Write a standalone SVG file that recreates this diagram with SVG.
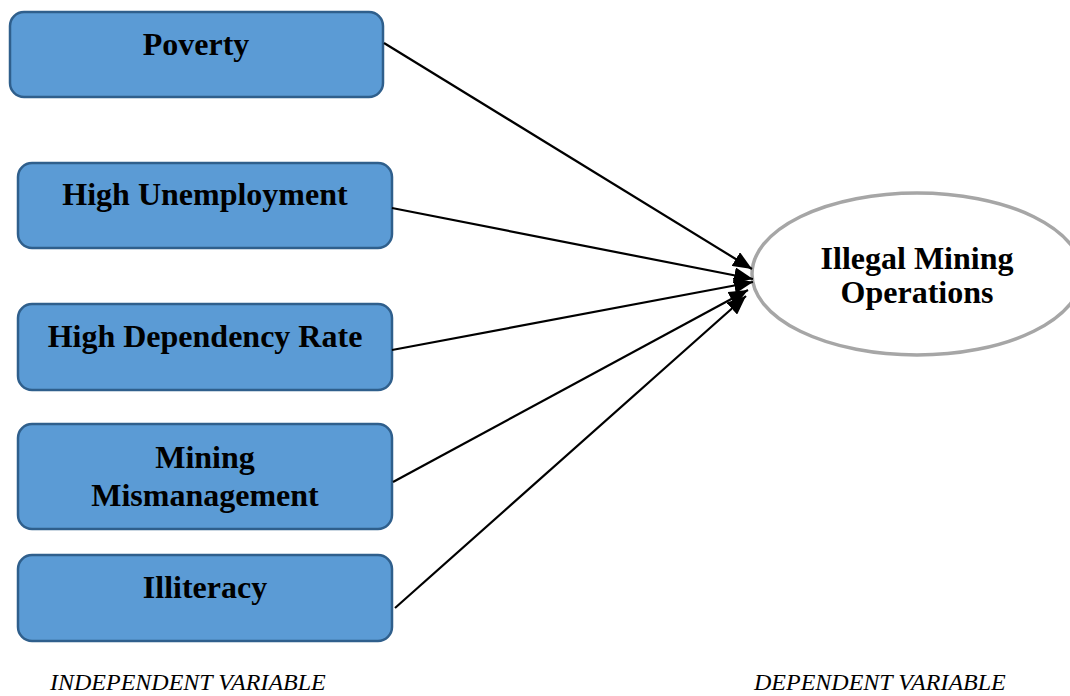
<svg xmlns="http://www.w3.org/2000/svg" width="1070" height="696" viewBox="0 0 1070 696">
  <style>
    .box { fill: #5b9bd5; stroke: #2f5f8c; stroke-width: 2.5; }
    .oval { fill: #ffffff; stroke: #a6a6a6; stroke-width: 3.5; }
    .lbl { font-family: "Liberation Serif", "Times New Roman", serif; font-weight: bold; font-size: 32px; fill: #000; text-anchor: middle; }
    .cap { font-family: "Liberation Serif", "Times New Roman", serif; font-style: italic; font-size: 24px; fill: #000; }
    .link { stroke: #000; stroke-width: 2.2; fill: none; marker-end: url(#head); }
  </style>
  <defs>
    <marker id="head" markerUnits="userSpaceOnUse" markerWidth="20" markerHeight="16" refX="19" refY="8" orient="auto">
      <path d="M0,0 L19,8 L0,16 z" fill="#000"/>
    </marker>
  </defs>

  <rect width="1070" height="696" fill="#ffffff"/>

  <!-- causes -->
  <g id="poverty">
    <rect class="box" x="10" y="12" width="373" height="85" rx="14"/>
    <text class="lbl" x="196" y="55">Poverty</text>
  </g>
  <g id="unemployment">
    <rect class="box" x="18" y="163" width="374" height="85" rx="14"/>
    <text class="lbl" x="205" y="205">High Unemployment</text>
  </g>
  <g id="dependency">
    <rect class="box" x="18" y="304" width="374" height="86" rx="14"/>
    <text class="lbl" x="205" y="347">High Dependency Rate</text>
  </g>
  <g id="mismanagement">
    <rect class="box" x="18" y="424" width="374" height="105" rx="14"/>
    <text class="lbl" x="205" y="468">Mining</text>
    <text class="lbl" x="205" y="506">Mismanagement</text>
  </g>
  <g id="illiteracy">
    <rect class="box" x="18" y="555" width="374" height="86" rx="14"/>
    <text class="lbl" x="205" y="598">Illiteracy</text>
  </g>

  <!-- outcome -->
  <g id="illegal-mining">
    <ellipse class="oval" cx="917" cy="274" rx="165" ry="81"/>
    <text class="lbl" x="917" y="269">Illegal Mining</text>
    <text class="lbl" x="917" y="303">Operations</text>
  </g>

  <!-- connectors -->
  <g id="connectors">
    <line class="link" x1="384" y1="43" x2="752" y2="269"/>
    <line class="link" x1="392" y1="208" x2="753" y2="279"/>
    <line class="link" x1="392" y1="350" x2="753" y2="282"/>
    <line class="link" x1="393" y1="482" x2="748" y2="290"/>
    <line class="link" x1="395" y1="608" x2="746" y2="296"/>
  </g>

  <!-- captions -->
  <text class="cap" x="50" y="690">INDEPENDENT VARIABLE</text>
  <text class="cap" x="754" y="690">DEPENDENT VARIABLE</text>
</svg>
